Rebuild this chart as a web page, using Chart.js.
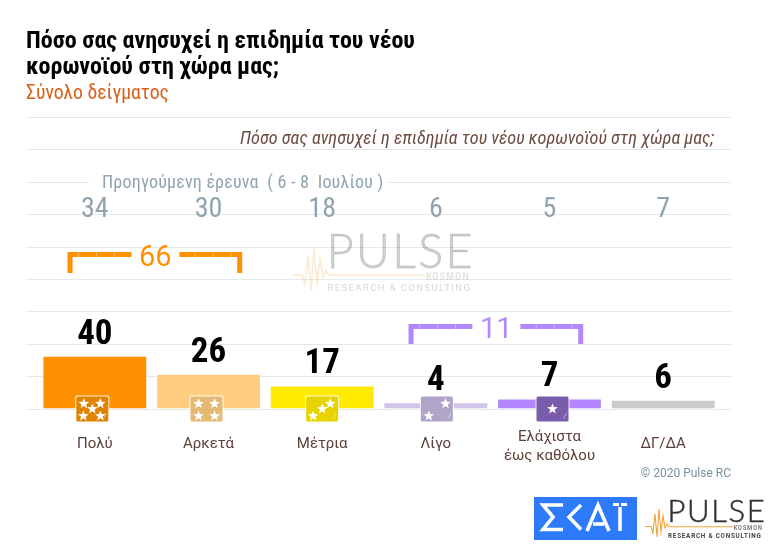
<!DOCTYPE html>
<html><head><meta charset="utf-8">
<style>html,body{margin:0;padding:0;background:#fff}canvas{display:block}</style>
<script src="https://cdn.jsdelivr.net/npm/chart.js@4/dist/chart.umd.min.js"></script>
</head><body>
<canvas id="c" width="777" height="550" style="width:777px;height:550px"></canvas>
<script>
const categories = ["Πολύ","Αρκετά","Μέτρια","Λίγο",["Ελάχιστα","έως καθόλου"],"ΔΓ/ΔΑ"];
const currentValues = [40,26,17,4,7,6];
const previousValues = [34,30,18,6,5,7];
const barColors = ["#FF9100","#FFCC80","#FFEA00","#D1C4E9","#B388FF","#CCCCCC"];
const iconColors = ["#E08300","#E5B873","#E6D300","#B0A4C8","#7A5CAC",null];
const starCounts = [5,4,3,2,1,0];
const iconShift = [-2.5,-2,0,1,3,0];
const titleLines = ["Πόσο σας ανησυχεί η επιδημία του νέου","κορωνοϊού στη χώρα μας;"];
const subtitleText = "Σύνολο δείγματος";
const questionText = "Πόσο σας ανησυχεί η επιδημία του νέου κορωνοϊού στη χώρα μας;";
const previousLabel = "Προηγούμενη έρευνα  ( 6 - 8  Ιουλίου )";
const groupTotals = [{from:0,to:1,text:"66",color:"#FF9100",top:252,bottom:273},{from:3,to:4,text:"11",color:"#B388FF",top:324,bottom:344}];
const copyrightText = "© 2020 Pulse RC";
const NARROW = '"Liberation Sans Narrow","Roboto Condensed",Roboto,sans-serif';
const STAR_SPOTS = {5:[[-8.5,-5.3],[8,-5.3],[0,0],[-9,7],[8,7]],4:[[-8,-5.3],[8,-5.3],[-8,7],[8,7]],3:[[8,-5.3],[0,0],[-9,7]],2:[[8.7,-5.3],[-8,7]],1:[[0,0]]};

function text(ctx,str,x,y,font,color,align,spacing){
  ctx.font=font;ctx.fillStyle=color;ctx.textAlign=align||"left";ctx.textBaseline="alphabetic";
  ctx.letterSpacing=(spacing||0)+"px";ctx.fillText(str,x,y);ctx.letterSpacing="0px";
}
function star(ctx,cx,cy,r){
  ctx.beginPath();
  for(let i=0;i<10;i++){const a=-Math.PI/2+i*Math.PI/5,q=i%2?r*0.42:r;
    ctx[i?"lineTo":"moveTo"](cx+q*Math.cos(a),cy+q*Math.sin(a));}
  ctx.closePath();ctx.fillStyle="#fff";ctx.fill();
}
function pulseLogo(ctx,x0,y0,s,alpha,captionWeight){
  ctx.save();ctx.globalAlpha=alpha;ctx.translate(x0,y0);ctx.scale(s,s);
  text(ctx,"PULSE",22.5,22,'300 31px Lato,Roboto,sans-serif',"#333",'left',1.6);
  ctx.letterSpacing="1.6px";ctx.strokeStyle="#333";ctx.lineWidth=0.5;ctx.strokeText("PULSE",22.5,22);ctx.letterSpacing="0px";
  ctx.strokeStyle="#F2A33A";ctx.lineWidth=1.1;ctx.beginPath();
  [[0,26.5],[6,26.5],[8,33],[10,14],[12,37],[14,9],[16,32],[18,16],[20,28],[22,24],[24,26.7],[88,26.7]]
    .forEach((p,i)=>ctx[i?"lineTo":"moveTo"](p[0],p[1]));ctx.stroke();
  text(ctx,"KOSMON",88.5,30,'bold 7px '+NARROW,"#8a8a8a",'left',0.6);
  text(ctx,"RESEARCH & CONSULTING",23,37.5,captionWeight+' 6.3px Roboto,sans-serif',"#444",'left',captionWeight==="bold"?0.78:0.95);
  ctx.restore();
}
function skaiLogo(ctx){
  ctx.fillStyle="#2D7BFB";ctx.fillRect(534,497,103,43);
  ctx.strokeStyle="#fff";ctx.lineWidth=3.6;ctx.lineJoin="miter";ctx.lineCap="butt";
  const poly=(pts)=>{ctx.beginPath();pts.forEach((p,i)=>ctx[i?"lineTo":"moveTo"](p[0],p[1]));ctx.stroke();};
  poly([[563,505],[543,505],[553,517],[543,529.5],[563,529.5]]);
  poly([[581,505],[569,517],[581,529.5]]);
  poly([[587,531],[598,505],[609,531]]);
  poly([[593,524],[604,524]]);
  poly([[620,507],[620,531]]);
  ctx.fillStyle="#fff";ctx.fillRect(613,503,6,3);ctx.fillRect(621,503,6,3);
}
const overlay = {
  id:"overlay",
  beforeDatasetsDraw(chart){
    const {ctx,scales:{x,y}}=chart;
    ctx.save();
    ctx.strokeStyle="#E6E9EB";ctx.lineWidth=1;
    y.ticks.forEach(t=>{const py=Math.round(y.getPixelForValue(t.value))+0.5;
      ctx.beginPath();ctx.moveTo(26,py);ctx.lineTo(731,py);ctx.stroke();});
    const gy=Math.round(y.getPixelForValue(175));
    ctx.fillStyle="#fff";ctx.fillRect(89,gy-10,299,20);
    pulseLogo(ctx,293,235,1.5,0.22,"normal");
    ctx.restore();
  },
  afterDatasetsDraw(chart){
    const {ctx,scales:{x,y}}=chart;
    const meta=chart.getDatasetMeta(0);
    ctx.save();
    titleLines.forEach((l,i)=>text(ctx,l,26,48+i*26,'bold 24px '+NARROW,"#000"));
    text(ctx,subtitleText,26,99,'19.7px '+NARROW,"#D9601A");
    text(ctx,questionText,714,143.5,'italic 18.3px '+NARROW,"#6D4C41",'right');
    text(ctx,previousLabel,102,188,'18px '+NARROW,"#90A4AE",'left',0.2);
    text(ctx,copyrightText,731,476.5,'12px Roboto,sans-serif',"#78909C",'right',0);
    previousValues.forEach((v,i)=>text(ctx,String(v),x.getPixelForValue(i),217,'28px '+NARROW,"#90A4AE",'center'));
    currentValues.forEach((v,i)=>text(ctx,String(v),meta.data[i].x,meta.data[i].y-13,'bold 35px '+NARROW,"#000",'center'));
    // icons sit across the baseline of the bars
    const base=y.getPixelForValue(0);
    starCounts.forEach((n,i)=>{
      if(!n)return;
      const cx=x.getPixelForValue(i)+iconShift[i],cy=base+0.5;
      ctx.beginPath();ctx.roundRect(cx-17,cy-13.5,34,27,2);ctx.fillStyle="rgba(255,255,255,.85)";ctx.fill();
      ctx.beginPath();ctx.roundRect(cx-16,cy-12.5,32,25,1.5);ctx.fillStyle=iconColors[i];ctx.fill();
      STAR_SPOTS[n].forEach(p=>star(ctx,cx+p[0],cy+p[1],5.6));
      ctx.strokeStyle="rgba(255,255,255,.55)";ctx.lineWidth=.8;ctx.beginPath();
      ctx.moveTo(cx+11,cy+10);ctx.lineTo(cx+14,cy+4);ctx.stroke();
    });
    // bracket groups
    groupTotals.forEach(g=>{
      const l=x.getPixelForValue(g.from)-27.3,r=x.getPixelForValue(g.to)+33.7,mid=(l+r)/2+0.5;
      ctx.strokeStyle=g.color;ctx.lineWidth=5;ctx.lineJoin="miter";ctx.lineCap="butt";
      ctx.beginPath();ctx.moveTo(l+2.5,g.bottom);ctx.lineTo(l+2.5,g.top+2.5);ctx.lineTo(mid-24,g.top+2.5);ctx.stroke();
      ctx.beginPath();ctx.moveTo(r-2.5,g.bottom);ctx.lineTo(r-2.5,g.top+2.5);ctx.lineTo(mid+24,g.top+2.5);ctx.stroke();
      ctx.strokeStyle="rgba(255,255,255,.35)";ctx.lineWidth=1;
      [11,29,47].forEach(d=>{
        [l+d,r-d].forEach(px=>{ctx.beginPath();ctx.moveTo(px,g.top);ctx.lineTo(px,g.top+5);ctx.stroke();});
      });
      text(ctx,g.text,mid,g.top+14,'29px Roboto,sans-serif',g.color,'center');
    });
    pulseLogo(ctx,645,500,1,1,"bold");
    skaiLogo(ctx);
    ctx.restore();
  }
};
new Chart(document.getElementById("c"),{
  type:"bar",
  data:{labels:categories,datasets:[{data:currentValues,backgroundColor:barColors,borderWidth:0,categoryPercentage:1,barPercentage:0.905}]},
  plugins:[overlay],
  options:{
    responsive:false,animation:false,devicePixelRatio:1,
    layout:{padding:{left:38,right:57,top:117,bottom:0}},
    plugins:{legend:{display:false},tooltip:{enabled:false},title:{display:false}},
    scales:{
      x:{grid:{display:false},border:{display:false},
        afterFit(s){s.height=141.5;},
        ticks:{padding:11,maxRotation:0,autoSkip:false,color:"#5D4037",
          font:c=>({family:'Roboto,sans-serif',size:15,lineHeight:c.index===4?19/15:33.4/15})}},
      y:{display:false,min:0,max:225,ticks:{stepSize:25}}
    }
  }
});
</script>
</body></html>
